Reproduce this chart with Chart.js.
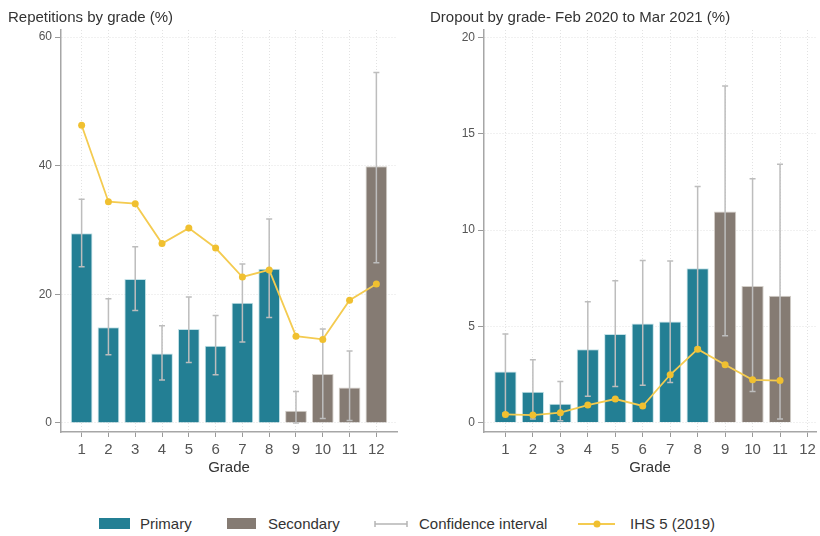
<!DOCTYPE html>
<html>
<head>
<meta charset="UTF-8">
<title>Repetitions and dropout by grade</title>
<script src="https://cdn.jsdelivr.net/npm/chart.js@4.4.0/dist/chart.umd.min.js"></script>
<style>
  body { margin: 0; background: #fff; font-family: "Liberation Sans", Arial, sans-serif; }
  #wrap { position: relative; width: 820px; height: 536px; overflow: hidden; }
  .panel { position: absolute; top: 0; }
  .lg { position: absolute; font-size: 15px; color: #333; line-height: 18px; top: 515px; }
  .box { position: absolute; top: 518px; height: 11px; }
  .ico { position: absolute; }
</style>
</head>
<body>
<div id="wrap">
  <canvas id="repChart" class="panel" style="left:0" width="410" height="490"></canvas>
  <canvas id="dropChart" class="panel" style="left:410px" width="410" height="490"></canvas>

  <div class="box" style="left:99px;width:31px;background:#237f94"></div>
  <div class="lg" style="left:140px">Primary</div>
  <div class="box" style="left:227px;width:29px;background:#857b73"></div>
  <div class="lg" style="left:268px">Secondary</div>
  <svg class="ico" style="left:374px;top:518px" width="34" height="12">
    <line x1="1" y1="6" x2="33" y2="6" stroke="#b5b5b5" stroke-width="1.5"/>
    <line x1="1" y1="3" x2="1" y2="9" stroke="#b5b5b5" stroke-width="1.5"/>
    <line x1="33" y1="3" x2="33" y2="9" stroke="#b5b5b5" stroke-width="1.5"/>
  </svg>
  <div class="lg" style="left:419px">Confidence interval</div>
  <svg class="ico" style="left:578px;top:518px" width="38" height="12">
    <line x1="0" y1="6" x2="37" y2="6" stroke="#f4cb50" stroke-width="1.8"/>
    <circle cx="19" cy="6" r="3.5" fill="#f0c030"/>
  </svg>
  <div class="lg" style="left:630px">IHS 5 (2019)</div>
</div>

<script>
// grades on the x axis
const grades = [1, 2, 3, 4, 5, 6, 7, 8, 9, 10, 11, 12];
const lastPrimaryGrade = 8;

// left panel: repetitions by grade (%)
const repPct  = [29.5, 14.9, 22.4, 10.8, 14.6, 12.0, 18.7, 24.0, 1.9, 7.6, 5.5, 39.9];
const repLow  = [24.3, 10.6, 17.5, 6.7, 9.4, 7.5, 12.6, 16.4, 0.0, 0.7, 0.4, 24.9];
const repHigh = [34.8, 19.3, 27.4, 15.1, 19.6, 16.7, 24.7, 31.7, 4.9, 14.6, 11.2, 54.5];
const repIhs  = [46.3, 34.4, 34.1, 27.9, 30.3, 27.2, 22.7, 23.8, 13.5, 13.0, 19.1, 21.6];
const repTicks = [0, 20, 40, 60];

// right panel: dropout by grade (%), no grade 12 data
const dropGrades = [1, 2, 3, 4, 5, 6, 7, 8, 9, 10, 11];
const dropPct  = [2.66, 1.61, 0.99, 3.82, 4.60, 5.15, 5.26, 8.02, 10.96, 7.10, 6.59];
const dropLow  = [0.5, 0.2, 0.1, 1.37, 1.88, 1.94, 2.09, 3.9, 4.51, 1.62, 0.2];
const dropHigh = [4.60, 3.27, 2.14, 6.28, 7.37, 8.42, 8.39, 12.26, 17.48, 12.66, 13.42];
const dropIhs  = [0.43, 0.40, 0.52, 0.92, 1.23, 0.87, 2.49, 3.82, 3.01, 2.23, 2.19];
const dropTicks = [0, 5, 10, 15, 20];

const teal = '#237f94', grey = '#857b73';
const font = '"Liberation Sans", Arial, sans-serif';

function ciPlugin(xs, low, high) {
  return {
    id: 'ci',
    afterDatasetDraw(chart, args) {
      if (args.index !== 1) return;
      const ctx = chart.ctx, x = chart.scales.x, y = chart.scales.y;
      ctx.save();
      ctx.strokeStyle = '#bdbdbd';
      ctx.lineWidth = 1.5;
      xs.forEach(function (g, i) {
        const px = x.getPixelForValue(g);
        const y1 = y.getPixelForValue(low[i]);
        const y2 = y.getPixelForValue(high[i]);
        ctx.beginPath();
        ctx.moveTo(px, y1); ctx.lineTo(px, y2);
        ctx.moveTo(px - 3, y1); ctx.lineTo(px + 3, y1);
        ctx.moveTo(px - 3, y2); ctx.lineTo(px + 3, y2);
        ctx.stroke();
      });
      ctx.restore();
    }
  };
}

function makeChart(id, p) {
  const barColors = p.xs.map(g => g <= lastPrimaryGrade ? teal : grey);
  const edgeColors = p.xs.map(g => g <= lastPrimaryGrade ? '#c4e2e8' : '#d3cec8');
  return new Chart(document.getElementById(id), {
    data: {
      datasets: [{
        type: 'line',
        order: 0,
        data: p.xs.map((g, i) => ({x: g, y: p.ihs[i]})),
        borderColor: '#f4cb50',
        borderWidth: 1.8,
        pointRadius: 3.5,
        pointBackgroundColor: '#f0c030',
        pointBorderWidth: 0,
        tension: 0
      }, {
        type: 'bar',
        order: 1,
        data: p.xs.map((g, i) => ({x: g, y: p.values[i]})),
        backgroundColor: barColors,
        borderColor: edgeColors,
        borderWidth: 1,
        barPercentage: 0.81,
        categoryPercentage: 1
      }]
    },
    options: {
      responsive: false,
      animation: false,
      devicePixelRatio: 1,
      layout: { padding: { left: p.padLeft, right: p.padRight, top: 0, bottom: 0 } },
      plugins: {
        legend: { display: false },
        tooltip: { enabled: false },
        title: {
          display: true,
          text: p.title,
          align: 'start',
          color: '#333',
          font: { family: font, size: 15, weight: 'normal' },
          padding: { top: 9, bottom: 3 }
        }
      },
      scales: {
        x: {
          type: 'linear',
          min: p.xMin,
          max: p.xMax,
          offset: false,
          grid: { offset: false, color: '#e2e2e2', tickColor: '#9a9a9a', tickLength: 5 },
          border: { color: '#a6a6a6', width: 1.5, dash: [1, 2] },
          afterBuildTicks: s => { s.ticks = grades.map(v => ({value: v})); },
          afterFit: s => { s.height = 58; s.paddingLeft = 0; s.paddingRight = 0; },
          ticks: { color: '#555', padding: 4, font: { family: font, size: 15 } },
          title: {
            display: true, text: 'Grade', color: '#333',
            font: { family: font, size: 15 },
            padding: { top: 0, bottom: 13 }
          }
        },
        y: {
          min: p.yMin,
          max: p.yMax,
          grid: { color: '#e2e2e2', tickColor: '#9a9a9a', tickLength: 6 },
          border: { color: '#a6a6a6', width: 1.5, dash: [1, 2] },
          afterBuildTicks: s => { s.ticks = p.yTicks.map(v => ({value: v})); },
          afterFit: s => { s.width = p.yWidth; s.paddingTop = 0; s.paddingBottom = 0; },
          ticks: { color: '#555', padding: 3, font: { family: font, size: 12 } }
        }
      }
    },
    plugins: [ciPlugin(p.xs, p.low, p.high)]
  });
}

makeChart('repChart', {
  title: 'Repetitions by grade (%)',
  xs: grades, values: repPct, low: repLow, high: repHigh, ihs: repIhs,
  yTicks: repTicks, yMin: -1.4, yMax: 61.1,
  xMin: 0.23, xMax: 12.77,
  padLeft: 8, padRight: 13, yWidth: 53
});

makeChart('dropChart', {
  title: 'Dropout by grade- Feb 2020 to Mar 2021 (%)',
  xs: dropGrades, values: dropPct, low: dropLow, high: dropHigh, ihs: dropIhs,
  yTicks: dropTicks, yMin: -0.48, yMax: 20.38,
  xMin: 0.22, xMax: 12.31,
  padLeft: 20, padRight: 0, yWidth: 54
});
</script>
</body>
</html>
